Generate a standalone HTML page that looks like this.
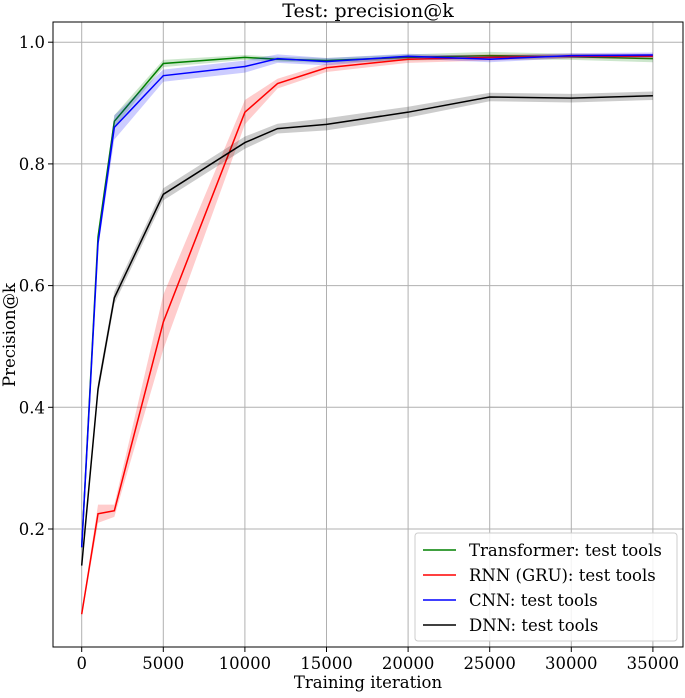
<!DOCTYPE html>
<html><head><meta charset="utf-8"><style>
body{margin:0;background:#fff;}
svg text{font-family:"DejaVu Serif","Liberation Serif",serif;}
</style></head><body>
<svg id="c" width="685" height="693" xmlns="http://www.w3.org/2000/svg"></svg>
<script>
const iterations=[0,1000,2000,5000,10000,12000,15000,20000,25000,30000,35000];
const transformer=[0.17,0.68,0.87,0.965,0.975,0.972,0.970,0.975,0.978,0.976,0.973];
const rnn=[0.06,0.225,0.23,0.54,0.885,0.932,0.958,0.972,0.975,0.977,0.977];
const cnn=[0.17,0.67,0.86,0.945,0.960,0.973,0.968,0.977,0.972,0.978,0.979];
const dnn=[0.14,0.43,0.58,0.75,0.835,0.858,0.865,0.885,0.910,0.908,0.912];
const bandT=[0.005,0.01,0.01,0.006,0.004,0.004,0.004,0.005,0.006,0.005,0.006];
const bandR=[0.005,0.015,0.01,0.045,0.02,0.008,0.007,0.006,0.005,0.004,0.004];
const bandC=[0.005,0.01,0.02,0.01,0.01,0.007,0.006,0.004,0.005,0.004,0.004];
const bandD=[0.005,0.01,0.01,0.01,0.01,0.008,0.01,0.009,0.007,0.007,0.007];
const xTicks=[0,5000,10000,15000,20000,25000,30000,35000];
const yTicks=[0.2,0.4,0.6,0.8,1.0];
const NS="http://www.w3.org/2000/svg";
const svg=document.getElementById('c');
const L=53,R=683,T=22,B=647;
const X=v=>81.7+v*(81.6/5000);
const Y=v=>529-(v-0.2)*(121.7/0.2);
function mk(t,a,p){const e=document.createElementNS(NS,t);for(const k in a)e.setAttribute(k,a[k]);(p||svg).appendChild(e);return e;}
xTicks.forEach(v=>{const g=mk('line',{x1:X(v),x2:X(v),y1:T,y2:B,stroke:'#b0b0b0','stroke-width':1});


const tk=mk('line',{x1:X(v),x2:X(v),y1:B,y2:B+5,stroke:'#000'});


const t=mk('text',{x:X(v),y:B+22,'text-anchor':'middle','font-size':16.5});t.textContent=v;

});
yTicks.forEach(v=>{const g=mk('line',{x1:L,x2:R,y1:Y(v),y2:Y(v),stroke:'#b0b0b0','stroke-width':1});


const tk=mk('line',{x1:L-5,x2:L,y1:Y(v),y2:Y(v),stroke:'#000'});


const t=mk('text',{x:L-8,y:Y(v)+6,'text-anchor':'end','font-size':16.5});t.textContent=v.toFixed(1);

});
const series=[[transformer,bandT,'#008000','transformer'],[rnn,bandR,'#ff0000','rnn'],[cnn,bandC,'#0000ff','cnn'],[dnn,bandD,'#000000','dnn']];
series.forEach(([d,b,c,n])=>{
 let up=iterations.map((x,i)=>X(x)+','+Y(d[i]+b[i]));
 let dn=iterations.map((x,i)=>X(x)+','+Y(d[i]-b[i])).reverse();
 const p=mk('polygon',{points:up.concat(dn).join(' '),fill:c,'fill-opacity':0.2});
 
 
 const l=mk('polyline',{points:iterations.map((x,i)=>X(x)+','+Y(d[i])).join(' '),fill:'none',stroke:c,'stroke-width':1.5});
 
 
});
const fr=mk('rect',{x:L,y:T,width:R-L,height:B-T,fill:'none',stroke:'#000','stroke-width':1});


const ti=mk('text',{x:(L+R)/2,y:17,'text-anchor':'middle','font-size':19});ti.textContent='Test: precision@k';


const xl=mk('text',{x:(L+R)/2,y:688,'text-anchor':'middle','font-size':16.5});xl.textContent='Training iteration';


const yl=mk('text',{x:0,y:0,'text-anchor':'middle','font-size':16.5,transform:'translate(15,335) rotate(-90)'});yl.textContent='Precision@k';


const lg=mk('g',{});


mk('rect',{x:415,y:533,width:262,height:108,rx:3,fill:'#fff','fill-opacity':0.85,stroke:'#ccc'},lg);
const labels=['Transformer: test tools','RNN (GRU): test tools','CNN: test tools','DNN: test tools'];
labels.forEach((s,i)=>{const y=550+i*25;
 const ln=mk('line',{x1:423,x2:456,y1:y,y2:y,stroke:series[i][2],'stroke-width':1.5},lg);
 
 
 const t=mk('text',{x:469,y:y+6,'font-size':16.5},lg);t.textContent=s;
 
 });
</script>
</body></html>
